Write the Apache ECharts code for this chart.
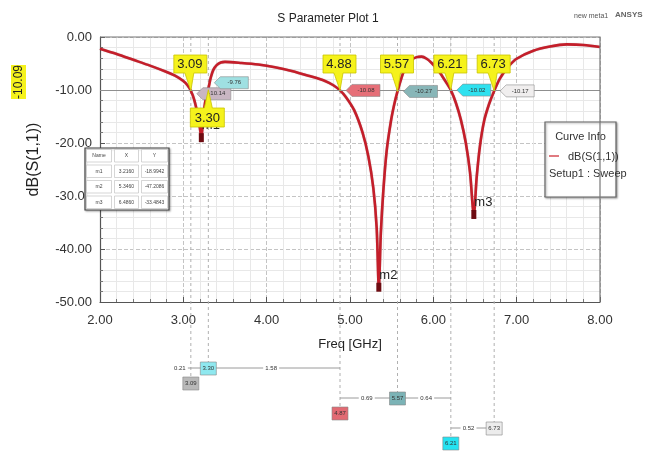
<!DOCTYPE html>
<html>
<head>
<meta charset="utf-8">
<script src="https://cdn.jsdelivr.net/npm/echarts@6/dist/echarts.min.js"></script>
<style>
  html, body { margin: 0; padding: 0; background: #fff; }
  #main { width: 656px; height: 453px; }
</style>
</head>
<body>
<div id="main"></div>
<script>
// S11 curve (GHz, dB)
var freq = [2.00, 2.20, 2.40, 2.60, 2.80, 2.90, 3.00, 3.05, 3.09, 3.13, 3.17, 3.20, 3.216, 3.23, 3.25, 3.27, 3.30, 3.33, 3.36, 3.40, 3.45,
            3.50, 3.70, 3.90, 4.10, 4.30, 4.50, 4.70, 4.80, 4.88, 4.95, 5.05, 5.15, 5.22, 5.28, 5.32, 5.346, 5.37, 5.40, 5.44, 5.49,
            5.53, 5.57, 5.62, 5.67, 5.73, 5.80, 5.86, 5.92, 5.98, 6.05, 6.10, 6.16, 6.21, 6.27, 6.33, 6.39, 6.44, 6.486, 6.52, 6.56,
            6.61, 6.67, 6.73, 6.80, 6.90, 7.00, 7.20, 7.40, 7.60, 7.80, 8.00];
var s11  = [-2.2, -3.2, -4.3, -5.4, -6.6, -7.3, -8.3, -9.1, -10.14, -11.8, -14.5, -17.3, -18.99, -17.0, -13.6, -11.6, -9.76, -7.6, -6.2, -5.3, -4.8,
            -4.7, -4.9, -5.2, -5.7, -6.4, -7.3, -8.3, -9.1, -10.08, -11.3, -13.8, -18.0, -22.5, -28.5, -36.0, -47.21, -37.0, -29.0, -21.5, -16.0,
            -12.8, -10.27, -7.6, -5.6, -4.4, -3.8, -3.7, -4.1, -4.9, -6.1, -7.2, -8.7, -10.02, -12.4, -15.6, -20.0, -25.5, -33.48, -26.5, -20.5,
            -15.8, -12.6, -10.17, -7.8, -5.6, -4.1, -2.6, -1.8, -1.4, -1.5, -1.9];

var xTicks = [2, 3, 4, 5, 6, 7, 8];
var yTicks = [-50, -40, -30, -20, -10, 0];

// delta-marker readouts
var markerX     = [3.09, 3.30, 4.88, 5.57, 6.21, 6.73];
var markerY     = [-10.14, -9.76, -10.08, -10.27, -10.02, -10.17];
var markerFlag  = ['3.09', '3.30', '4.88', '5.57', '6.21', '6.73'];
var markerTag   = ['-10.14', '-9.76', '-10.08', '-10.27', '-10.02', '-10.17'];
var markerBox   = ['3.09', '3.30', '4.87', '5.57', '6.21', '6.73'];
var deltaText   = ['0.21', '1.58', '0.69', '0.64', '0.52'];
var refLine     = -10.09;

// marker table
var tableHead = ['Name', 'X', 'Y'];
var tableRows = [
  ['m1', '3.2160', '-18.9942'],
  ['m2', '5.3460', '-47.2086'],
  ['m3', '6.4860', '-33.4843']
];
var pointName = ['m1', 'm2', 'm3'];
var pointX    = [3.216, 5.346, 6.486];
var pointY    = [-18.9942, -47.2086, -33.4843];

var FONT = 'Liberation Sans, Arial, sans-serif';
var chart = echarts.init(document.getElementById('main'));

var curve = freq.map(function (f, i) { return [f, s11[i]]; });

var option = {
  animation: false,
  backgroundColor: '#ffffff',
  title: {
    text: 'S Parameter Plot 1',
    left: 'center', top: 8,
    textStyle: { fontFamily: FONT, fontSize: 12, fontWeight: 'normal', color: '#222' }
  },
  grid: { left: 100, right: 56, top: 37, bottom: 151 },
  xAxis: {
    type: 'value', min: xTicks[0], max: xTicks[xTicks.length - 1], interval: 1,
    name: 'Freq [GHz]', nameLocation: 'middle', nameGap: 36,
    nameTextStyle: { fontFamily: FONT, fontSize: 13, color: '#222' },
    axisLine: { onZero: false, lineStyle: { color: '#555', width: 1.2 } },
    axisTick: { inside: true, length: 5, lineStyle: { color: '#555' } },
    minorTick: { show: true, splitNumber: 5, length: 3, lineStyle: { color: '#777' } },
    axisLabel: { fontFamily: FONT, fontSize: 13, color: '#333', margin: 12,
      formatter: function (v) { return v.toFixed(2); } },
    splitLine: { show: true, lineStyle: { color: '#c4c4c4', type: 'dashed', width: 1 } },
    minorSplitLine: { show: true, lineStyle: { color: '#e8e8e8', width: 1 } }
  },
  yAxis: {
    type: 'value', min: yTicks[0], max: yTicks[yTicks.length - 1], interval: 10,
    name: 'dB(S(1,1))', nameLocation: 'middle', nameGap: 58, nameRotate: 90,
    nameTextStyle: { fontFamily: FONT, fontSize: 16, color: '#222', padding: [0, 0, 0, 20] },
    axisLine: { show: true, lineStyle: { color: '#555', width: 1.2 } },
    axisTick: { inside: true, length: 5, lineStyle: { color: '#555' } },
    minorTick: { show: true, splitNumber: 5, length: 3, lineStyle: { color: '#777' } },
    axisLabel: { fontFamily: FONT, fontSize: 13, color: '#333', margin: 8,
      formatter: function (v) { return v.toFixed(2); } },
    splitLine: { show: true, lineStyle: { color: '#c4c4c4', type: 'dashed', width: 1 } },
    minorSplitLine: { show: true, lineStyle: { color: '#e8e8e8', width: 1 } }
  },
  series: [{
    name: 'dB(S(1,1))',
    type: 'line',
    data: curve,
    showSymbol: false,
    smooth: 0.3,
    lineStyle: { color: '#c41e2a', width: 2.6, shadowColor: 'rgba(90,0,0,0.35)', shadowBlur: 1 },
    markLine: {
      silent: true, symbol: 'none', label: { show: false },
      lineStyle: { color: '#8f8f8f', width: 1.2, type: 'solid' },
      data: [{ yAxis: refLine }]
    },
    markPoint: {
      symbol: 'rect', symbolSize: [5, 9],
      itemStyle: { color: '#6e0c12' },
      label: { show: true, position: [3, -14], fontFamily: FONT, fontSize: 13, color: '#222',
        formatter: function (p) { return p.name; } },
      data: pointName.map(function (n, i) { return { name: n, coord: [pointX[i], pointY[i]] }; })
    }
  }]
};
chart.setOption(option);

function px(x, y) { return chart.convertToPixel({ gridIndex: 0 }, [x, y]); }

var g = [];
var plotTop = px(2, 0)[1];
var plotRight = px(8, 0)[0];

// frame on top and right
g.push({ type: 'polyline', shape: { points: [[px(2, 0)[0], plotTop], [plotRight, plotTop], [plotRight, px(8, -50)[1]]] },
  style: { stroke: '#777', lineWidth: 1.2, fill: null }, z: 5 });

// corner text
g.push({ type: 'text', left: 574, top: 13, style: { text: 'new meta1', font: '7px ' + FONT, fill: '#555' } });
g.push({ type: 'text', left: 615, top: 11, style: { text: 'ANSYS', font: 'bold 8px ' + FONT, fill: '#666' } });

// rotated reference value
g.push({ type: 'group', x: 19, y: 82, rotation: Math.PI / 2, children: [
  { type: 'rect', shape: { x: -17, y: -8, width: 34, height: 15 }, style: { fill: '#f5f21c', stroke: null } },
  { type: 'text', style: { text: '-10.09', font: '12px ' + FONT, fill: '#222', align: 'center', verticalAlign: 'middle' }, x: 0, y: 0 }
] });

// per-marker bottom rows (y of the box below the plot)
var boxY = [383, 368, 413, 398, 443, 428];
var boxFill = ['#b9b9b9', '#8fe8ef', '#e26a73', '#7bb3b6', '#25e3f2', '#ececec'];
var tagFill = ['#c9b6c2', '#9fe0e2', '#e66f78', '#88b6b8', '#2fe1ef', '#f0eeee'];
var tagDy = [3, -6, 0, 0, 0, 0];

markerX.forEach(function (f, i) {
  var p = px(f, markerY[i]);
  var x = p[0], yc = p[1];
  // vertical dashed line down to its box
  g.push({ type: 'line', shape: { x1: x, y1: plotTop, x2: x, y2: boxY[i] - 6 },
    style: { stroke: '#b0b0b0', lineWidth: 1, lineDash: [3, 3] }, z: 3 });
  // value tag
  var ty = yc + tagDy[i];
  g.push({ type: 'polygon', shape: { points: [[x + 6, ty], [x + 12, ty - 6], [x + 40, ty - 6], [x + 40, ty + 6], [x + 12, ty + 6]] },
    style: { fill: tagFill[i], stroke: '#8a8a8a', lineWidth: 0.6 }, z: 20 });
  g.push({ type: 'text', x: x + 26, y: ty, z: 21,
    style: { text: markerTag[i], font: '6px ' + FONT, fill: '#333', align: 'center', verticalAlign: 'middle' } });
  // yellow flag
  var flag;
  if (i === 1) {
    flag = { type: 'polygon', shape: { points: [[x - 18, 108], [x - 4, 108], [x, yc + 1], [x + 4, 108], [x + 16, 108], [x + 16, 127], [x - 18, 127]] } };
  } else {
    flag = { type: 'polygon', shape: { points: [[x - 17, 55], [x + 16, 55], [x + 16, 73], [x + 3, 73], [x, yc], [x - 6, 73], [x - 17, 73]] } };
  }
  flag.style = { fill: '#f5f21c', stroke: '#c9c400', lineWidth: 0.8 };
  flag.z = 22;
  g.push(flag);
  g.push({ type: 'text', x: x - 1, y: i === 1 ? 118 : 64, z: 23,
    style: { text: markerFlag[i], font: '13px ' + FONT, fill: '#222', align: 'center', verticalAlign: 'middle' } });
  // box under the plot
  g.push({ type: 'rect', shape: { x: x - 8, y: boxY[i] - 6, width: 16, height: 13 },
    style: { fill: boxFill[i], stroke: '#888', lineWidth: 0.6 }, z: 10 });
  g.push({ type: 'text', x: x, y: boxY[i] + 0.5, z: 11,
    style: { text: markerBox[i], font: '6px ' + FONT, fill: '#333', align: 'center', verticalAlign: 'middle' } });
});

// delta rows under the plot
var xs = markerX.map(function (f) { return px(f, 0)[0]; });
function hline(x1, x2, y) {
  g.push({ type: 'line', shape: { x1: x1, y1: y, x2: x2, y2: y }, style: { stroke: '#9a9a9a', lineWidth: 1 }, z: 4 });
}
function dtext(t, x, y) {
  g.push({ type: 'rect', shape: { x: x - 8, y: y - 4, width: 16, height: 8 }, style: { fill: '#fff' }, z: 5 });
  g.push({ type: 'text', x: x, y: y, z: 6,
    style: { text: t, font: '6px ' + FONT, fill: '#333', align: 'center', verticalAlign: 'middle' } });
}
hline(xs[0] - 5, xs[2], 368);
dtext(deltaText[0], xs[0] - 11, 368);
dtext(deltaText[1], (xs[1] + xs[2]) / 2 - 3, 368);
hline(xs[2], xs[4], 398);
dtext(deltaText[2], (xs[2] + xs[3]) / 2 - 2, 398);
dtext(deltaText[3], (xs[3] + xs[4]) / 2 + 2, 398);
hline(xs[4], xs[5], 428);
dtext(deltaText[4], (xs[4] + xs[5]) / 2 - 4, 428);

// marker table
var tx = 85, ty0 = 148, cw = [28, 27, 29], rh = 15.5;
var tw = cw[0] + cw[1] + cw[2];
g.push({ type: 'rect', shape: { x: tx, y: ty0, width: tw, height: rh * 4 },
  style: { fill: '#fff', stroke: '#444', lineWidth: 1.2, shadowColor: 'rgba(0,0,0,0.3)', shadowBlur: 2, shadowOffsetX: 1, shadowOffsetY: 1 }, z: 30 });
[tableHead].concat(tableRows).forEach(function (row, r) {
  var cx = tx;
  row.forEach(function (cell, c) {
    g.push({ type: 'rect', shape: { x: cx + 1.5, y: ty0 + r * rh + 1.5, width: cw[c] - 3, height: rh - 3 },
      style: { fill: '#fff', stroke: '#bbb', lineWidth: 0.6 }, z: 31 });
    g.push({ type: 'text', x: cx + cw[c] / 2, y: ty0 + r * rh + rh / 2, z: 32,
      style: { text: cell, font: '5px ' + FONT, fill: '#444', align: 'center', verticalAlign: 'middle' } });
    cx += cw[c];
  });
});

// curve info box
g.push({ type: 'group', x: 545, y: 122, z: 30, children: [
  { type: 'rect', shape: { x: 0, y: 0, width: 71, height: 75 },
    style: { fill: '#fff', stroke: '#666', lineWidth: 1.2, shadowColor: 'rgba(0,0,0,0.35)', shadowBlur: 2, shadowOffsetX: 1, shadowOffsetY: 1 } },
  { type: 'text', x: 35.5, y: 15, style: { text: 'Curve Info', font: '11px ' + FONT, fill: '#333', align: 'center', verticalAlign: 'middle' } },
  { type: 'line', shape: { x1: 4, y1: 34, x2: 14, y2: 34 }, style: { stroke: '#e07a80', lineWidth: 2 } },
  { type: 'text', x: 23, y: 35, style: { text: 'dB(S(1,1))', font: '11px ' + FONT, fill: '#333', verticalAlign: 'middle' } },
  { type: 'text', x: 4, y: 52, style: { text: 'Setup1 : Sweep', font: '11px ' + FONT, fill: '#333', verticalAlign: 'middle' } }
] });

chart.setOption({ graphic: g });
</script>
</body>
</html>
